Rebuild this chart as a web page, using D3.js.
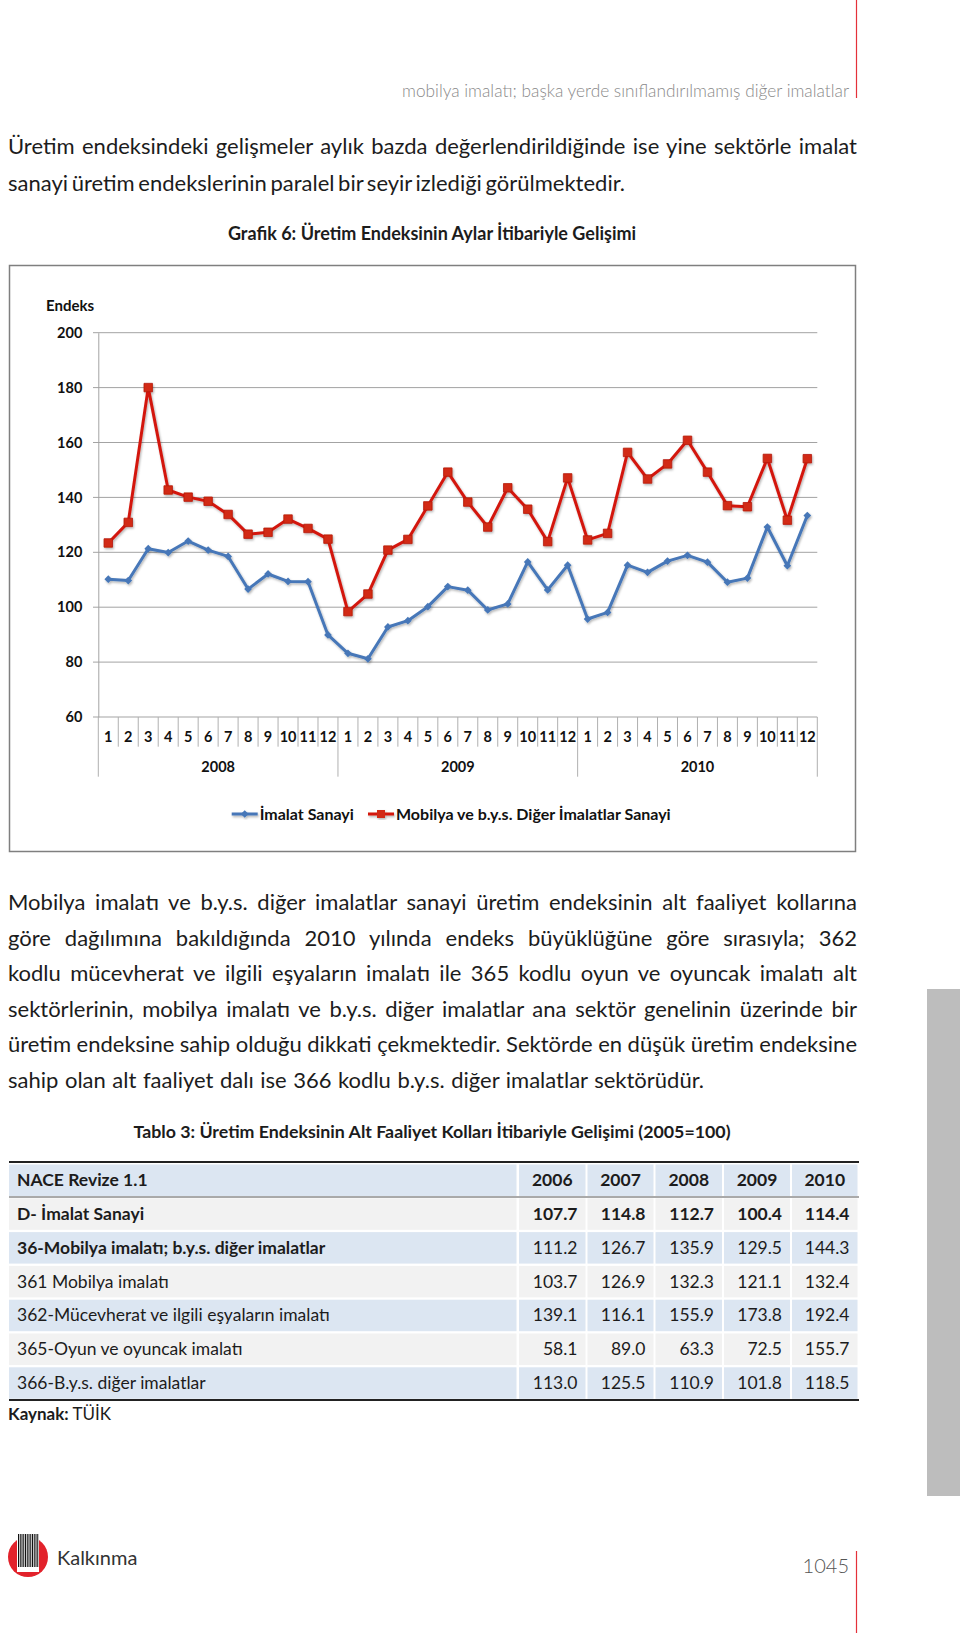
<!DOCTYPE html>
<html><head><meta charset="utf-8">
<script src="https://cdn.jsdelivr.net/npm/d3@7"></script>
<style>
body{margin:0;background:#fff}
svg{display:block}
text{font-family:Lato,'Open Sans','Noto Sans',sans-serif}
</style>
</head><body>
<svg id="page" width="960" height="1633"></svg>
<script>
// ---------------- DATA ----------------
const months = ["1","2","3","4","5","6","7","8","9","10","11","12",
                "1","2","3","4","5","6","7","8","9","10","11","12",
                "1","2","3","4","5","6","7","8","9","10","11","12"];
const years = ["2008","2009","2010"];
const seriesNames = ["İmalat Sanayi", "Mobilya ve b.y.s. Diğer İmalatlar Sanayi"];
const imalatSanayi = [110.2,109.7,121.3,119.9,124.1,120.8,118.5,106.6,112.1,109.4,109.3,89.9,
                      83.2,81.2,92.8,95.1,100.2,107.5,106.2,99.0,101.2,116.5,106.3,115.3,
                      95.7,98.1,115.3,112.7,116.8,118.9,116.4,109.1,110.6,129.2,115.1,133.4];
const mobilyaSanayi = [123.4,130.9,180.0,142.7,140.1,138.6,133.8,126.6,127.3,132.1,128.7,124.8,
                       98.4,104.8,120.8,124.7,136.9,149.2,138.3,129.2,143.5,135.7,123.9,147.1,
                       124.5,126.9,156.4,146.7,152.2,160.8,149.2,137.0,136.6,154.2,131.7,154.1];
const yTicks = [60,80,100,120,140,160,180,200];
const yAxisTitle = "Endeks";
const chartTitle = "Grafik 6: Üretim Endeksinin Aylar İtibariyle Gelişimi";

const tableTitle = "Tablo 3: Üretim Endeksinin Alt Faaliyet Kolları İtibariyle Gelişimi (2005=100)";
const tableHeader = ["NACE Revize 1.1","2006","2007","2008","2009","2010"];
const tableLabels = ["D- İmalat Sanayi","36-Mobilya imalatı; b.y.s. diğer imalatlar","361 Mobilya imalatı",
                     "362-Mücevherat ve ilgili eşyaların imalatı","365-Oyun ve oyuncak imalatı","366-B.y.s. diğer imalatlar"];
const tableValues = [
  [107.7,114.8,112.7,100.4,114.4],
  [111.2,126.7,135.9,129.5,144.3],
  [103.7,126.9,132.3,121.1,132.4],
  [139.1,116.1,155.9,173.8,192.4],
  [58.1,89.0,63.3,72.5,155.7],
  [113.0,125.5,110.9,101.8,118.5]
];

const headerText = "mobilya imalatı; başka yerde sınıflandırılmamış diğer imalatlar";
const para1 = ["Üretim endeksindeki gelişmeler aylık bazda değerlendirildiğinde ise yine sektörle imalat",
               "sanayi üretim endekslerinin paralel bir seyir izlediği görülmektedir."];
const para2 = ["Mobilya imalatı ve b.y.s. diğer imalatlar sanayi üretim endeksinin alt faaliyet kollarına",
               "göre dağılımına bakıldığında 2010 yılında endeks büyüklüğüne göre sırasıyla; 362",
               "kodlu mücevherat ve ilgili eşyaların imalatı ile 365 kodlu oyun ve oyuncak imalatı alt",
               "sektörlerinin, mobilya imalatı ve b.y.s. diğer imalatlar ana sektör genelinin üzerinde bir",
               "üretim endeksine sahip olduğu dikkati çekmektedir. Sektörde en düşük üretim endeksine",
               "sahip olan alt faaliyet dalı ise 366 kodlu b.y.s. diğer imalatlar sektörüdür."];
const sourceLabel = "Kaynak:";
const sourceText = " TÜİK";
const footerBrand = "Kalkınma";
const pageNumber = "1045";

// ---------------- PAGE ----------------
const svg = d3.select("#page");
const textColor = "#1c1c1c";

const defs = svg.append("defs");
const f = defs.append("filter").attr("id","sh").attr("x","-20%").attr("y","-20%").attr("width","140%").attr("height","140%");
f.append("feDropShadow").attr("dx",1).attr("dy",1.5).attr("stdDeviation",1.1)
  .attr("flood-color","#000").attr("flood-opacity",0.3);

// header
svg.append("line").attr("x1",856.5).attr("x2",856.5).attr("y1",0).attr("y2",98)
  .attr("stroke","#e4313a").attr("stroke-width",1.2);
svg.append("text").attr("x",849).attr("y",97).attr("text-anchor","end")
  .attr("font-size",17).attr("font-weight",300).attr("fill","#8a8a8a")
  .attr("textLength",447).attr("lengthAdjust","spacingAndGlyphs").text(headerText);

function justify(sel, target){
  const n = sel.node().getComputedTextLength();
  const spaces = (sel.text().match(/ /g)||[]).length;
  if(spaces>0) sel.style("word-spacing", ((target-n)/spaces)+"px");
}
function paragraph(lines, x, baselines, target, lastWidth){
  lines.forEach((t,i)=>{
    const s = svg.append("text").attr("x",x).attr("y",baselines[i])
      .attr("font-size",22).attr("fill",textColor).text(t);
    if(i<lines.length-1) justify(s, target);
    else justify(s, lastWidth);
  });
}
paragraph(para1, 8, [154, 190.5], 849, 617);
paragraph(para2, 8, [910, 945.5, 981, 1016.5, 1052, 1087.5], 849, 696);

// chart title
svg.append("text").attr("x",432).attr("y",239.5).attr("text-anchor","middle")
  .attr("font-size",18).attr("font-weight",700).attr("fill",textColor).text(chartTitle);

// chart frame
svg.append("rect").attr("x",9.5).attr("y",265.5).attr("width",846).attr("height",586)
  .attr("fill","#fff").attr("stroke","#7f7f7f").attr("stroke-width",1.5);

const x = d3.scaleBand().domain(d3.range(months.length)).range([98.3, 817.3]).padding(0);
const y = d3.scaleLinear().domain([60,200]).range([717, 332.7]);
const bw = x.bandwidth();
const chart = svg.append("g");

// gridlines
chart.append("g").selectAll("line").data(yTicks).join("line")
  .attr("x1",93).attr("x2",817.3).attr("y1",d=>y(d)).attr("y2",d=>y(d))
  .attr("stroke","#a3a3a3").attr("stroke-width",1);
// y axis
const yAxis = chart.append("g").attr("transform","translate(98.3,0)")
  .call(d3.axisLeft(y).tickValues(yTicks).tickSize(0).tickPadding(16));
yAxis.select(".domain").attr("stroke","#a3a3a3");
yAxis.selectAll("text").attr("font-size",14.5).attr("font-weight",700).attr("fill","#111")
  .style("font-family","Lato,sans-serif");
chart.append("text").attr("x",46).attr("y",311).attr("font-size",15).attr("font-weight",700)
  .attr("fill","#111").text(yAxisTitle);

// category separators
chart.append("g").selectAll("line").data(d3.range(months.length+1)).join("line")
  .attr("x1",i=>98.3+i*bw).attr("x2",i=>98.3+i*bw)
  .attr("y1",717).attr("y2",i=>(i%12===0)?776.7:746.7)
  .attr("stroke","#b0b0b0").attr("stroke-width",1);

// month labels
const xAxis = chart.append("g").attr("transform","translate(0,717)")
  .call(d3.axisBottom(x).tickFormat(i=>months[i]).tickSize(0).tickPadding(15));
xAxis.select(".domain").remove();
xAxis.selectAll("text").attr("font-size",14.5).attr("font-weight",700).attr("fill","#111")
  .style("font-family","Lato,sans-serif");

// year labels
chart.append("g").selectAll("text").data(years).join("text")
  .attr("x",(d,j)=>x(j*12)+6*bw).attr("y",772).attr("text-anchor","middle")
  .attr("font-size",14.5).attr("font-weight",700).attr("fill","#111").text(d=>d);

// series
const blue = "#4677b8", red = "#d3170d";
const line = d3.line().x((d,i)=>x(i)+bw/2).y(d=>y(d));
const sq = d3.symbol().type(d3.symbolSquare);
const gB = chart.append("g").attr("filter","url(#sh)");
gB.append("path").datum(imalatSanayi).attr("d",line).attr("fill","none")
  .attr("stroke",blue).attr("stroke-width",3).attr("stroke-linejoin","round");
gB.selectAll("path.m").data(imalatSanayi).join("path").attr("class","m")
  .attr("d",sq.size(30)())
  .attr("transform",(d,i)=>`translate(${x(i)+bw/2},${y(d)}) rotate(45)`)
  .attr("fill",blue);
const gR = chart.append("g").attr("filter","url(#sh)");
gR.append("path").datum(mobilyaSanayi).attr("d",line).attr("fill","none")
  .attr("stroke",red).attr("stroke-width",3).attr("stroke-linejoin","round");
gR.selectAll("path.m").data(mobilyaSanayi).join("path").attr("class","m")
  .attr("d",sq.size(72)())
  .attr("transform",(d,i)=>`translate(${x(i)+bw/2},${y(d)})`)
  .attr("fill","#d22a12").attr("stroke","#b51a0a").attr("stroke-width",0.8);

// legend
const leg = chart.append("g");
const legItems = [{name:seriesNames[0],x0:231.7,color:blue,diamond:true},
                  {name:seriesNames[1],x0:368,color:red,diamond:false}];
legItems.forEach(it=>{
  const g = leg.append("g").attr("filter","url(#sh)");
  g.append("line").attr("x1",it.x0).attr("x2",it.x0+26).attr("y1",814).attr("y2",814)
    .attr("stroke",it.color).attr("stroke-width",3);
  g.append("path").attr("d",it.diamond?sq.size(30)():sq.size(64)())
    .attr("transform",`translate(${it.x0+13},814)`+(it.diamond?" rotate(45)":""))
    .attr("fill",it.diamond?blue:"#d22a12");
  leg.append("text").attr("x",it.x0+28).attr("y",819.5).attr("font-size",16).attr("font-weight",700)
    .attr("fill","#111").text(it.name);
});

// gray side bar
svg.append("rect").attr("x",927).attr("y",989).attr("width",33).attr("height",507).attr("fill","#bdbdbd");

// table
svg.append("text").attr("x",432).attr("y",1137.5).attr("text-anchor","middle")
  .attr("font-size",17.8).attr("font-weight",700).attr("fill",textColor).text(tableTitle);

const cols = [[9,516.5],[519,585.5],[587.5,653.5],[655.5,722],[724,790],[792,857.5]];
const rowTop = i => 1164.5 + i*33.8;
const rowH = 31.5;
const tbl = svg.append("g");
const allRows = [tableHeader].concat(tableLabels.map((l,i)=>[l].concat(tableValues[i].map(v=>v.toFixed(1)))));
allRows.forEach((row,r)=>{
  const fill = (r%2===0) ? "#dce6f2" : "#f2f2f2";
  cols.forEach((c,ci)=>{
    tbl.append("rect").attr("x",c[0]).attr("y",rowTop(r)).attr("width",c[1]-c[0]).attr("height",rowH).attr("fill",fill);
  });
  const cy = rowTop(r)+rowH/2+6;
  const boldLabel = r<=2;
  const boldNums = r<=1;
  row.forEach((t,ci)=>{
    const s = tbl.append("text").attr("y",cy).attr("font-size",17.5).attr("fill",textColor).text(t);
    if(ci===0){ s.attr("x",17).attr("font-weight",boldLabel?700:400); }
    else if(r===0){ s.attr("x",(cols[ci][0]+cols[ci][1])/2).attr("text-anchor","middle").attr("font-weight",700); }
    else { s.attr("x",cols[ci][1]-8).attr("text-anchor","end").attr("font-weight",boldNums?700:400); }
  });
});
tbl.append("line").attr("x1",9).attr("x2",859).attr("y1",1162).attr("y2",1162).attr("stroke","#222").attr("stroke-width",2.2);
tbl.append("line").attr("x1",9).attr("x2",859).attr("y1",1197).attr("y2",1197).attr("stroke","#555").attr("stroke-width",1);
tbl.append("line").attr("x1",9).attr("x2",859).attr("y1",1400).attr("y2",1400).attr("stroke","#222").attr("stroke-width",2.2);

const src = svg.append("text").attr("x",8).attr("y",1420).attr("font-size",17).attr("fill",textColor);
src.append("tspan").attr("font-weight",700).text(sourceLabel);
src.append("tspan").text(sourceText);

// footer logo
const logo = svg.append("g");
logo.append("circle").attr("cx",28).attr("cy",1557).attr("r",20).attr("fill","#e2222b");
logo.append("rect").attr("x",17).attr("y",1534).attr("width",22).attr("height",38).attr("fill","#fff");
logo.selectAll("line.b").data(d3.range(12)).join("line").attr("class","b")
  .attr("x1",i=>18.5+i*1.75).attr("x2",i=>18.5+i*1.75).attr("y1",1534).attr("y2",1567)
  .attr("stroke","#111").attr("stroke-width",1);
svg.append("text").attr("x",57).attr("y",1565).attr("font-size",20).attr("fill","#333").text(footerBrand);
svg.append("text").attr("x",849).attr("y",1573).attr("text-anchor","end").attr("font-size",20)
  .attr("font-weight",300).attr("fill","#555").text(pageNumber);
svg.append("line").attr("x1",856.5).attr("x2",856.5).attr("y1",1551).attr("y2",1633)
  .attr("stroke","#e4313a").attr("stroke-width",1.2);
</script>
</body></html>
